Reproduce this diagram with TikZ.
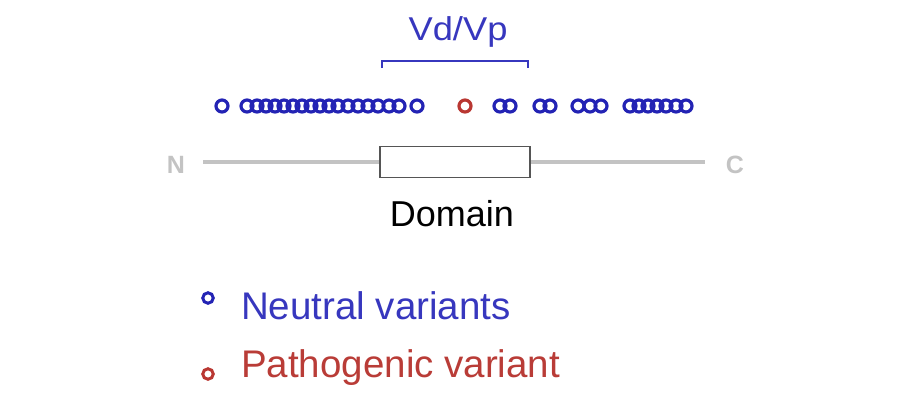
\documentclass[tikz,border=0pt]{standalone}
\usepackage{fontspec}
\setmainfont{Liberation Sans}
\definecolor{vblue}{RGB}{35,35,180}
\definecolor{tblue}{RGB}{55,55,190}
\definecolor{vred}{RGB}{185,55,50}
\definecolor{tred}{RGB}{185,60,55}
\definecolor{axisgray}{RGB}{195,195,195}
\definecolor{boxgray}{RGB}{85,85,85}
\begin{document}
\begin{tikzpicture}[x=1pt,y=-1pt,
  neutral/.style={circle,draw=vblue,line width=3.2pt,minimum size=12pt,inner sep=0pt},
  patho/.style={circle,draw=vred,line width=3.2pt,minimum size=12pt,inner sep=0pt},
  lgneutral/.style={circle,draw=vblue,line width=3pt,minimum size=10.5pt,inner sep=0pt},
  lgpatho/.style={circle,draw=vred,line width=3pt,minimum size=10.5pt,inner sep=0pt},
  ends/.style={text=axisgray,font=\fontsize{25}{25}\selectfont\bfseries,inner sep=0pt},
  bigtext/.style={font=\fontsize{38.5}{38.5}\selectfont,inner sep=0pt}]
\useasboundingbox (0,0) rectangle (900,400);
% axis
\node[ends] (N) at (176,165) {N};
\node[ends] (C) at (735,165) {C};
\coordinate (a0) at (203,162);
\coordinate (a1) at (705,162);
\draw[axisgray,line width=4.5pt] (a0) -- (a1);
\node[draw=boxgray,fill=white,line width=1.4pt,minimum width=150pt,minimum height=31pt,inner sep=0pt] (dom) at (455,162) {};
\node[bigtext,anchor=base,font=\fontsize{36}{36}\selectfont] (domlab) at (452,226) {Domain};
% bracket
\coordinate (b0) at (382,68);
\coordinate (b1) at (382,61);
\coordinate (b2) at (528,61);
\coordinate (b3) at (528,68);
\draw[tblue,line width=1.3pt] (b0) -- (b1) -- (b2) -- (b3);
\node[anchor=base,text=tblue,inner sep=0pt,font=\fontsize{33}{33}\selectfont,xscale=1.1] (vdvp) at (458,40) {Vd/Vp};
% variants
\foreach \x [count=\i] in {222,247,257,266,275,284,293,302,311,320,329,338,348,358,368,378,389,399,417,500,510,540,550,578,590,601,630,639,648,657,666,676,686}
  \node[neutral] (v\i) at (\x,106) {};
\node[patho] (p1) at (465,106) {};
% legend
\node[lgneutral] (ln) at (208,298) {};
\node[lgpatho] (lp) at (208,374) {};
\node[bigtext,anchor=base west,text=tblue] (lnt) at (241,319) {Neutral variants};
\node[bigtext,anchor=base west,text=tred] (lpt) at (241,377) {Pathogenic variant};
\end{tikzpicture}
\end{document}
